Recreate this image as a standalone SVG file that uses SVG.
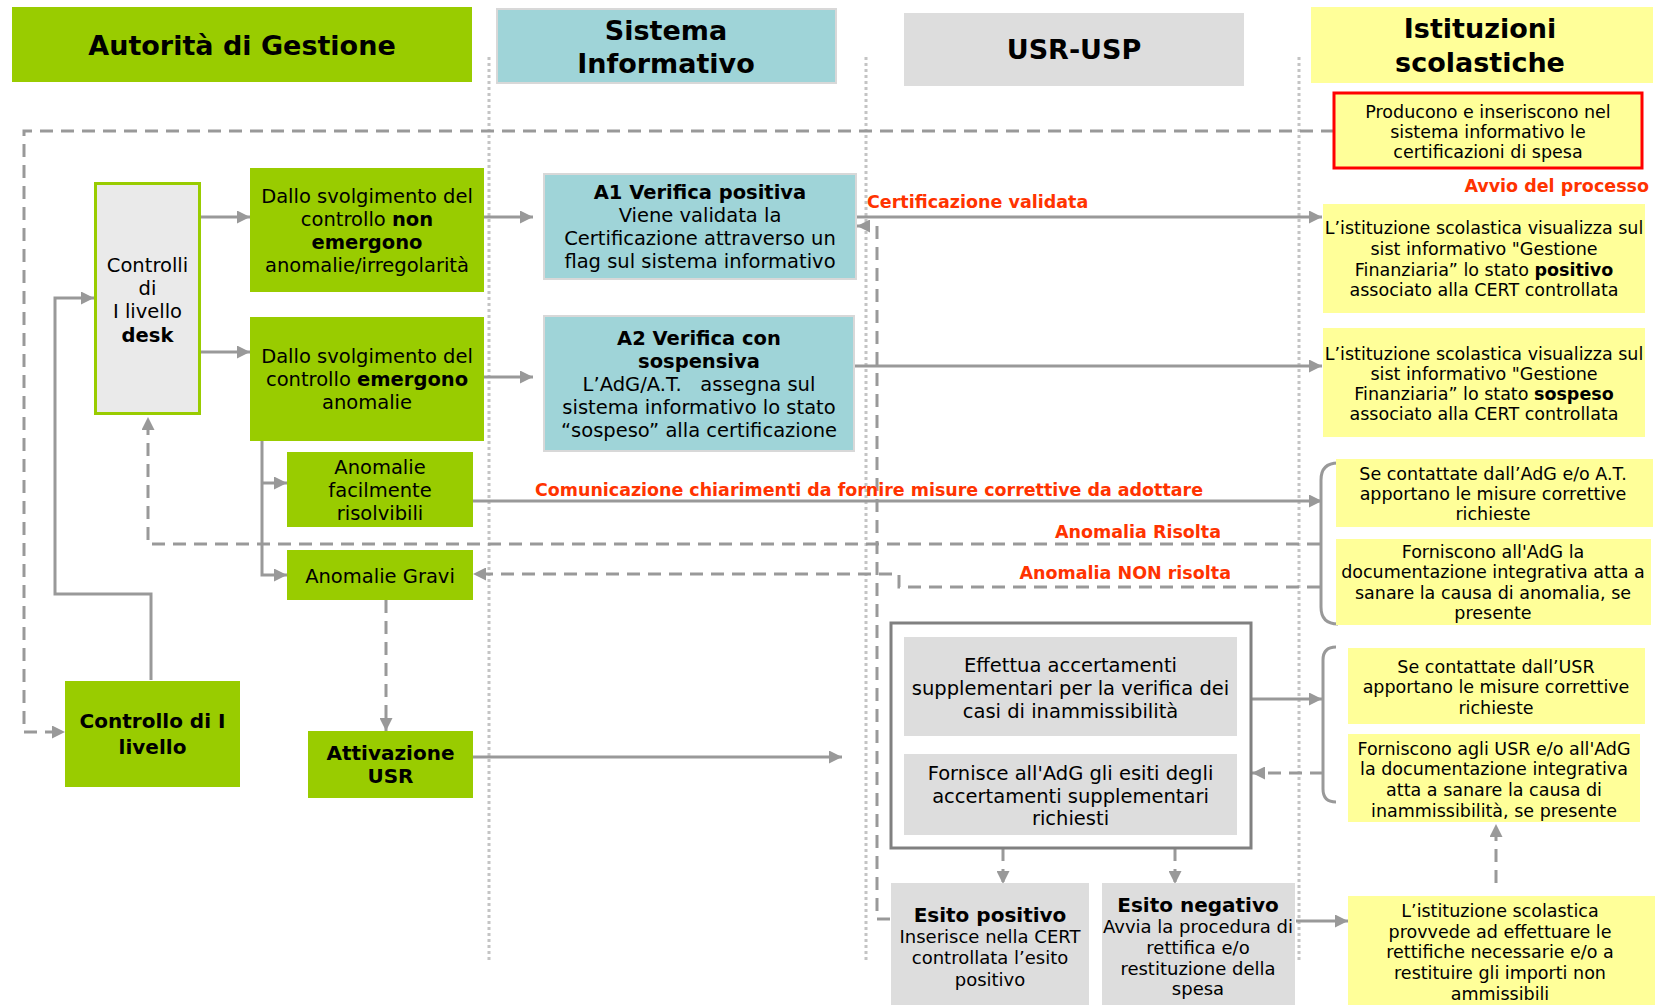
<svg xmlns="http://www.w3.org/2000/svg" width="1655" height="1005" viewBox="0 0 1655 1005">
<defs>
<style>
.t{font-family:"DejaVu Sans",Verdana,sans-serif;fill:#000;text-anchor:middle}
.h{font-size:27px;font-weight:bold}
.n{font-size:19.5px}
.s{font-size:17.5px}
.e{font-size:18px}
.b{font-weight:bold}
.bb{font-size:20px;font-weight:bold}
.red{font-family:"DejaVu Sans",Verdana,sans-serif;fill:#FF3300;font-weight:bold;font-size:17.5px}
.g{fill:#99CC00}
.tl{fill:#9FD4D8;stroke:#D8D8D8;stroke-width:2}
.gr{fill:#DDDDDD}
.y{fill:#FFFF99}
.c{fill:none;stroke:#999999;stroke-width:3}
.d{stroke-dasharray:13 8}
.dot{fill:none;stroke:#C4C4C4;stroke-width:3;stroke-dasharray:3 3}
</style>
<marker id="ah" viewBox="0 0 10 10" refX="10" refY="5" markerWidth="13" markerHeight="13" markerUnits="userSpaceOnUse" orient="auto"><path d="M0,0 L10,5 L0,10 z" fill="#999999"/></marker>
</defs>
<rect width="1655" height="1005" fill="#FFFFFF"/>

<g id="lanes">
<line class="dot" x1="489" y1="57" x2="489" y2="963"/>
<line class="dot" x1="866" y1="57" x2="866" y2="963"/>
<line class="dot" x1="1299" y1="57" x2="1299" y2="963"/>
</g>

<g id="hdr-adg"><rect class="g" x="12" y="7" width="460" height="75"/><text class="t h" x="242" y="55">Autorità di Gestione</text></g>
<g id="hdr-si"><rect class="tl" x="497" y="9" width="339" height="74"/><text class="t h" x="666" y="40">Sistema</text><text class="t h" x="666" y="73">Informativo</text></g>
<g id="hdr-usr"><rect class="gr" x="904" y="13" width="340" height="73"/><text class="t h" x="1074" y="59">USR-USP</text></g>
<g id="hdr-is"><rect class="y" x="1311" y="7" width="342" height="76"/><text class="t h" x="1480" y="38">Istituzioni</text><text class="t h" x="1480" y="72">scolastiche</text></g>

<g id="connectors">
<path class="c d" d="M1334,131 H24 V732 H65" marker-end="url(#ah)"/>
<path class="c" d="M201,217 H250" marker-end="url(#ah)"/>
<path class="c" d="M201,352 H250" marker-end="url(#ah)"/>
<path class="c" d="M484,217 H533" marker-end="url(#ah)"/>
<path class="c" d="M484,377 H533" marker-end="url(#ah)"/>
<path class="c" d="M856,217 H1322" marker-end="url(#ah)"/>
<path class="c d" d="M890,919 H877 V226 H857" marker-end="url(#ah)"/>
<path class="c" d="M854,366 H1322" marker-end="url(#ah)"/>
<path class="c" d="M262,441 V575 H287" marker-end="url(#ah)"/>
<path class="c" d="M262,483 H287" marker-end="url(#ah)"/>
<path class="c" d="M473,501 H1322" marker-end="url(#ah)"/>
<path class="c d" d="M1320,544 H148 V417" marker-end="url(#ah)"/>
<path class="c d" d="M1320,587 H899 V574 H473" marker-end="url(#ah)"/>
<path class="c" d="M1338,463 Q1321,463 1321,480 V607 Q1321,624 1338,624"/>
<path class="c" d="M151,680 V594 H55 V298 H94" marker-end="url(#ah)"/>
<path class="c d" d="M386,600 V731" marker-end="url(#ah)"/>
<path class="c" d="M473,757 H842" marker-end="url(#ah)"/>
<path class="c" d="M1251,699 H1322" marker-end="url(#ah)"/>
<path class="c" d="M1336,647 Q1323,647 1323,660 V789 Q1323,802 1336,802"/>
<path class="c d" d="M1323,773 H1252" marker-end="url(#ah)"/>
<path class="c d" d="M1003,848 V884" marker-end="url(#ah)"/>
<path class="c d" d="M1175,848 V884" marker-end="url(#ah)"/>
<path class="c" d="M1296,921 H1348" marker-end="url(#ah)"/>
<path class="c d" d="M1496,883 V824" marker-end="url(#ah)"/>
</g>

<g id="labels">
<text class="red" x="867" y="208">Certificazione validata</text>
<text class="red" x="1649" y="192" text-anchor="end">Avvio del processo</text>
<text class="red" x="535" y="496" textLength="668" lengthAdjust="spacingAndGlyphs">Comunicazione chiarimenti da fornire misure correttive da adottare</text>
<text class="red" x="1221" y="538" text-anchor="end">Anomalia Risolta</text>
<text class="red" x="1231" y="579" text-anchor="end">Anomalia NON risolta</text>
</g>

<g id="n-red"><rect x="1334" y="93" width="308" height="75" fill="#FFFF99" stroke="#FF0000" stroke-width="3"/>
<text class="t s" x="1488"><tspan x="1488" y="118">Producono e inseriscono nel</tspan><tspan x="1488" y="138">sistema informativo le</tspan><tspan x="1488" y="158">certificazioni di spesa</tspan></text></g>

<g id="n-controlli"><rect x="95.5" y="183.5" width="104" height="230" fill="#EAEAEA" stroke="#99CC00" stroke-width="3"/>
<text class="t n" x="147.5"><tspan x="147.5" y="272">Controlli</tspan><tspan x="147.5" y="295">di</tspan><tspan x="147.5" y="318">I livello</tspan><tspan x="147.5" y="342" font-weight="bold">desk</tspan></text></g>

<g id="n-green1"><rect class="g" x="250" y="168" width="234" height="124"/>
<text class="t n" x="367"><tspan x="367" y="203">Dallo svolgimento del</tspan><tspan x="367" y="226">controllo <tspan font-weight="bold">non</tspan></tspan><tspan x="367" y="249" font-weight="bold">emergono</tspan><tspan x="367" y="272">anomalie/irregolarità</tspan></text></g>

<g id="n-green2"><rect class="g" x="250" y="317" width="234" height="124"/>
<text class="t n" x="367"><tspan x="367" y="363">Dallo svolgimento del</tspan><tspan x="367" y="386">controllo <tspan font-weight="bold">emergono</tspan></tspan><tspan x="367" y="409">anomalie</tspan></text></g>

<g id="n-a1"><rect class="tl" x="544" y="174" width="312" height="105"/>
<text class="t n" x="700"><tspan x="700" y="199" font-weight="bold">A1 Verifica positiva</tspan><tspan x="700" y="222">Viene validata la</tspan><tspan x="700" y="245">Certificazione attraverso un</tspan><tspan x="700" y="268">flag sul sistema informativo</tspan></text></g>

<g id="n-a2"><rect class="tl" x="544" y="316" width="310" height="135"/>
<text class="t n" x="699"><tspan x="699" y="345" font-weight="bold">A2 Verifica con</tspan><tspan x="699" y="368" font-weight="bold">sospensiva</tspan><tspan x="699" y="391">L’AdG/A.T.&#160;&#160; assegna sul</tspan><tspan x="699" y="414">sistema informativo lo stato</tspan><tspan x="699" y="437">“sospeso” alla certificazione</tspan></text></g>

<g id="n-y1"><rect class="y" x="1323" y="204" width="322" height="109"/>
<text class="t s" x="1484"><tspan x="1484" y="234">L’istituzione scolastica visualizza sul</tspan><tspan x="1484" y="255">sist informativo "Gestione</tspan><tspan x="1484" y="276">Finanziaria” lo stato <tspan font-weight="bold">positivo</tspan></tspan><tspan x="1484" y="296">associato alla CERT controllata</tspan></text></g>

<g id="n-y2"><rect class="y" x="1323" y="328" width="322" height="109"/>
<text class="t s" x="1484"><tspan x="1484" y="360">L’istituzione scolastica visualizza sul</tspan><tspan x="1484" y="380">sist informativo "Gestione</tspan><tspan x="1484" y="400">Finanziaria” lo stato <tspan font-weight="bold">sospeso</tspan></tspan><tspan x="1484" y="420">associato alla CERT controllata</tspan></text></g>

<g id="n-facili"><rect class="g" x="287" y="452" width="186" height="75"/>
<text class="t n" x="380"><tspan x="380" y="474">Anomalie</tspan><tspan x="380" y="497">facilmente</tspan><tspan x="380" y="520">risolvibili</tspan></text></g>

<g id="n-gravi"><rect class="g" x="287" y="550" width="186" height="50"/>
<text class="t n" x="380" y="583">Anomalie Gravi</text></g>

<g id="n-y3"><rect class="y" x="1336" y="459" width="317" height="68"/>
<text class="t s" x="1493"><tspan x="1493" y="480">Se contattate dall’AdG e/o A.T.</tspan><tspan x="1493" y="500">apportano le misure correttive</tspan><tspan x="1493" y="520">richieste</tspan></text></g>

<g id="n-y4"><rect class="y" x="1336" y="539" width="315" height="86"/>
<text class="t s" x="1493"><tspan x="1493" y="558">Forniscono all'AdG la</tspan><tspan x="1493" y="578">documentazione integrativa atta a</tspan><tspan x="1493" y="599">sanare la causa di anomalia, se</tspan><tspan x="1493" y="619">presente</tspan></text></g>

<g id="n-controllo1"><rect class="g" x="65" y="681" width="175" height="106"/>
<text class="t bb" x="152.5"><tspan x="152.5" y="728">Controllo di I</tspan><tspan x="152.5" y="754">livello</tspan></text></g>

<g id="n-attivazione"><rect class="g" x="308" y="731" width="165" height="67"/>
<text class="t bb" x="390.5"><tspan x="390.5" y="760">Attivazione</tspan><tspan x="390.5" y="783">USR</tspan></text></g>

<g id="n-usr"><rect x="891" y="623" width="360" height="225" fill="#FFFFFF" stroke="#808080" stroke-width="3"/>
<rect class="gr" x="904" y="637" width="333" height="99"/>
<text class="t n" x="1070.5"><tspan x="1070.5" y="672">Effettua accertamenti</tspan><tspan x="1070.5" y="695">supplementari per la verifica dei</tspan><tspan x="1070.5" y="718">casi di inammissibilità</tspan></text>
<rect class="gr" x="904" y="754" width="333" height="81"/>
<text class="t n" x="1070.5"><tspan x="1070.5" y="780">Fornisce all'AdG gli esiti degli</tspan><tspan x="1070.5" y="803">accertamenti supplementari</tspan><tspan x="1070.5" y="825">richiesti</tspan></text></g>

<g id="n-y5"><rect class="y" x="1348" y="648" width="297" height="76"/>
<text class="t s" x="1496"><tspan x="1496" y="673">Se contattate dall’USR</tspan><tspan x="1496" y="693">apportano le misure correttive</tspan><tspan x="1496" y="714">richieste</tspan></text></g>

<g id="n-y6"><rect class="y" x="1348" y="734" width="292" height="88"/>
<text class="t s" x="1494"><tspan x="1494" y="755">Forniscono agli USR e/o all'AdG</tspan><tspan x="1494" y="775">la documentazione integrativa</tspan><tspan x="1494" y="796">atta a sanare la causa di</tspan><tspan x="1494" y="817">inammissibilità, se presente</tspan></text></g>

<g id="n-esitopos"><rect class="gr" x="891" y="883" width="198" height="130"/>
<text class="t e" x="990"><tspan x="990" y="922" font-weight="bold" font-size="20px">Esito positivo</tspan><tspan x="990" y="943">Inserisce nella CERT</tspan><tspan x="990" y="964">controllata l’esito</tspan><tspan x="990" y="986">positivo</tspan></text></g>

<g id="n-esitoneg"><rect class="gr" x="1102" y="883" width="193" height="130"/>
<text class="t e" x="1198"><tspan x="1198" y="912" font-weight="bold" font-size="20px">Esito negativo</tspan><tspan x="1198" y="933">Avvia la procedura di</tspan><tspan x="1198" y="954">rettifica e/o</tspan><tspan x="1198" y="975">restituzione della</tspan><tspan x="1198" y="995">spesa</tspan></text></g>

<g id="n-y7"><rect class="y" x="1348" y="896" width="307" height="120"/>
<text class="t s" x="1500"><tspan x="1500" y="917">L’istituzione scolastica</tspan><tspan x="1500" y="938">provvede ad effettuare le</tspan><tspan x="1500" y="958">rettifiche necessarie e/o a</tspan><tspan x="1500" y="979">restituire gli importi non</tspan><tspan x="1500" y="1000">ammissibili</tspan></text></g>
</svg>
